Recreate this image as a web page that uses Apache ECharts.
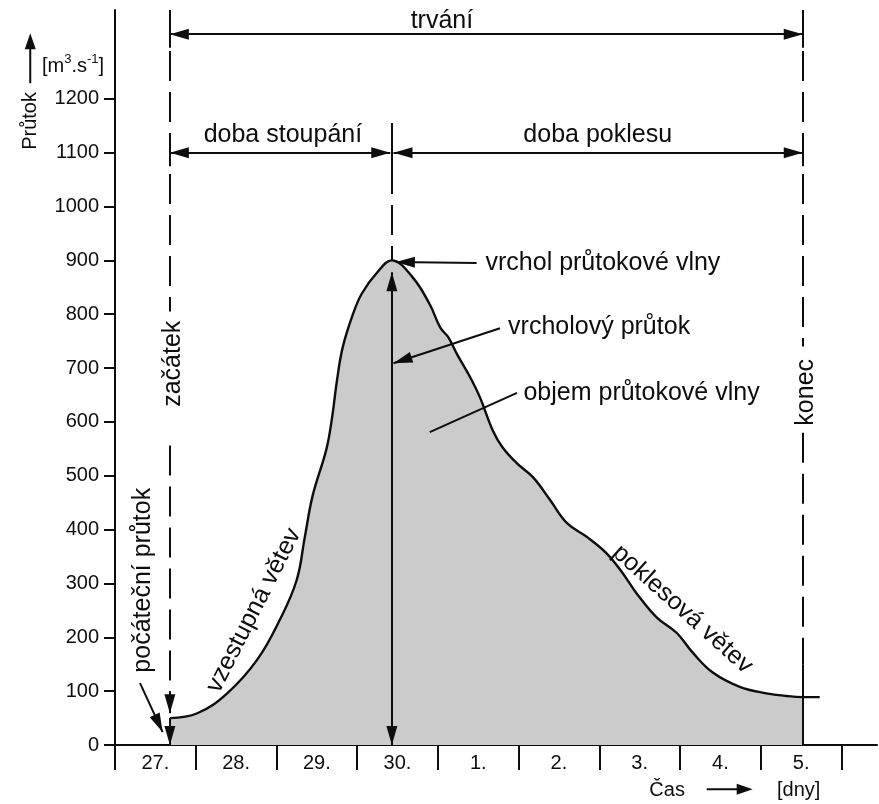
<!DOCTYPE html>
<html><head><meta charset="utf-8">
<script src="https://cdn.jsdelivr.net/npm/echarts@6/dist/echarts.min.js"></script>
<style>html,body{margin:0;padding:0;background:#fff}#c{width:879px;height:804px}</style>
</head><body><div id="c"></div>
<script>
// ---- data ----
const dayLabels = ['27.', '28.', '29.', '30.', '1.', '2.', '3.', '4.', '5.'];
const dayTicks = [0, 1, 2, 3, 4, 5, 6, 7, 8, 9];
const dayLabelPos = [0.5, 1.5, 2.5, 3.5, 4.5, 5.5, 6.5, 7.5, 8.5];
const flowTicks = [0, 100, 200, 300, 400, 500, 600, 700, 800, 900, 1000, 1100, 1200];

// hydrograph (day position, flow m3/s)
const flowDay = [0.68, 1.02, 1.39, 1.76, 2.04, 2.25, 2.35, 2.45, 2.62, 2.69, 2.75, 2.82, 2.95, 3.06, 3.24, 3.43,
  3.69, 3.90, 4.03, 4.13, 4.24, 4.40, 4.52, 4.68, 4.80, 4.98, 5.18, 5.39, 5.60, 5.85, 6.09, 6.29, 6.46, 6.71, 6.96,
  7.16, 7.41, 7.74, 8.07, 8.32, 8.52];
const flowValue = [50, 59, 96, 158, 232, 306, 385, 464, 550, 609, 677, 738, 801, 839, 876, 900,
  868, 818, 775, 757, 725, 683, 646, 584, 553, 523, 497, 455, 412, 386, 356, 319, 282, 237, 208,
  171, 134, 108, 96, 91, 89];
const tailDay = [8.73];
const tailValue = [89];

const startDay = 0.68, peakDay = 3.43, endDay = 8.52;
const startFlow = 50, peakFlow = 900;
const durationLevel = 1320, phaseLevel = 1100;

// ---- styling ----
const FONT = '"Liberation Sans", Arial, Helvetica, sans-serif';
const INK = '#0d0d0d';
const AX_MAX = 1365, DAY_MAX = 9.44;
const ANN = 25;

const areaData = flowDay.map((d, i) => [d, flowValue[i]]);
const lineData = areaData.concat(tailDay.map((d, i) => [d, tailValue[i]]));

const annotations = [
  { t: 'trvání', x: 4.05, y: 1344 },
  { t: 'doba stoupání', x: 2.08, y: 1133 },
  { t: 'doba poklesu', x: 5.98, y: 1133 },
  { t: 'vrchol průtokové vlny', x: 4.59, y: 895, align: 'left' },
  { t: 'vrcholový průtok', x: 4.87, y: 776, align: 'left' },
  { t: 'objem průtokové vlny', x: 5.06, y: 654, align: 'left' },
  { t: 'začátek', x: 0.72, y: 708, rot: 90 },
  { t: 'konec', x: 8.56, y: 655, rot: 90 },
  { t: 'počáteční průtok', x: 0.35, y: 306, rot: 90 },
  { t: 'vzestupná větev', x: 1.72, y: 250, rot: 63 },
  { t: 'poklesová větev', x: 7.03, y: 252, rot: -42 }
];

const seg = (a, b) => [{ coord: a }, { coord: b }];
const HEAD = [11, 19];
const HEAD_OFF = [0, 9.5];
const aseg = (a, b) => [
  { coord: a, symbolSize: HEAD, symbolOffset: HEAD_OFF },
  { coord: b, symbolSize: HEAD, symbolOffset: HEAD_OFF }
];

const chart = echarts.init(document.getElementById('c'), null, { renderer: 'canvas' });
chart.setOption({
  animation: false,
  backgroundColor: '#fff',
  grid: { left: 115, right: 2, top: 10, bottom: 59, containLabel: false, outerBoundsMode: 'none' },
  xAxis: {
    type: 'value', min: 0, max: DAY_MAX,
    axisLine: { show: true, onZero: false, lineStyle: { color: INK, width: 2 } },
    axisTick: { show: true, customValues: dayTicks, length: 25, lineStyle: { color: INK, width: 2 } },
    axisLabel: {
      show: true, customValues: dayLabelPos, margin: 8,
      color: INK, fontFamily: FONT, fontSize: 20,
      formatter: v => dayLabels[Math.round(v - 0.5)] || ''
    },
    splitLine: { show: false }
  },
  yAxis: {
    type: 'value', min: 0, max: AX_MAX,
    axisLine: { show: true, lineStyle: { color: INK, width: 2 } },
    axisTick: { show: true, customValues: flowTicks, length: 11, lineStyle: { color: INK, width: 2 } },
    axisLabel: {
      show: true, customValues: flowTicks, margin: 16, color: INK, fontFamily: FONT, fontSize: 20,
      formatter: v => String(v)
    },
    splitLine: { show: false }
  },
  series: [
    { // flood-wave volume
      type: 'line', data: areaData, smooth: 0.4, symbol: 'none', silent: true,
      lineStyle: { width: 0, opacity: 0 }, areaStyle: { color: '#cbcbcb', opacity: 1 }, z: 1
    },
    { // hydrograph curve
      type: 'line', data: lineData, smooth: 0.4, symbol: 'none', silent: true,
      lineStyle: { color: INK, width: 2.4 }, z: 3
    },
    { // dashed guide lines
      type: 'line', data: [], silent: true, clip: false,
      markLine: {
        silent: true, symbol: ['none', 'none'], label: { show: false },
        lineStyle: { color: INK, width: 2, type: [30, 11] },
        emphasis: { disabled: true },
        data: [
          seg([startDay, AX_MAX], [startDay, 805]),
          seg([startDay, 556], [startDay, 90]),
          seg([peakDay, 1155], [peakDay, peakFlow]),
          seg([endDay, AX_MAX], [endDay, 740]),
          seg([endDay, 580], [endDay, 150])
        ]
      }
    },
    { // plain solid lines
      type: 'line', data: [], silent: true, clip: false,
      markLine: {
        silent: true, symbol: ['none', 'none'], label: { show: false },
        lineStyle: { color: INK, width: 2, type: 'solid' },
        emphasis: { disabled: true },
        data: [
          seg([4.98, 654], [3.90, 581]),
          seg([endDay, 150], [endDay, 0]),
          seg([startDay, 1345], [startDay, 1295]),
          seg([endDay, 1345], [endDay, 1295]),
          seg([startDay, 1125], [startDay, 1075]),
          seg([peakDay, 1125], [peakDay, 1075]),
          seg([endDay, 1125], [endDay, 1075])
        ]
      }
    },
    { // double arrows
      type: 'line', data: [], silent: true, clip: false,
      markLine: {
        silent: true, symbol: ['triangle', 'triangle'],
        label: { show: false }, lineStyle: { color: INK, width: 2, type: 'solid' },
        itemStyle: { color: INK },
        emphasis: { disabled: true },
        data: [
          aseg([startDay, durationLevel], [endDay, durationLevel]),
          aseg([startDay, phaseLevel], [peakDay - 0.02, phaseLevel]),
          aseg([peakDay + 0.02, phaseLevel], [endDay, phaseLevel]),
          aseg([peakDay, 0], [peakDay, 878])
        ]
      }
    },
    { // single arrows
      type: 'line', data: [], silent: true, clip: false,
      markLine: {
        silent: true, symbol: ['none', 'triangle'],
        label: { show: false }, lineStyle: { color: INK, width: 2, type: 'solid' },
        itemStyle: { color: INK },
        emphasis: { disabled: true },
        data: [
          aseg([4.48, 895], [3.48, 897]),
          aseg([4.77, 774], [3.45, 709]),
          aseg([0.31, 115], [0.59, 24]),
          aseg([startDay, 100], [startDay, 59]),
          aseg([startDay, startFlow], [startDay, 0])
        ]
      }
    },
    { // annotation texts
      type: 'scatter', silent: true, symbolSize: 0, z: 10,
      itemStyle: { opacity: 1 },
      data: annotations.map(a => ({
        value: [a.x, a.y],
        label: {
          show: true, position: 'inside', formatter: a.t, rotate: a.rot || 0,
          align: a.align || 'center', verticalAlign: 'middle',
          color: INK, opacity: 1, fontFamily: FONT, fontSize: ANN
        }
      }))
    }
  ]
});

// axis titles placed through the axes' own scales
const px = (d, v) => chart.convertToPixel({ gridIndex: 0 }, [d, v]);
const pName = px(-1.05, 1159);
const pArrTop = px(-1.05, 1322), pArrBot = px(-1.05, 1229);
const pUnit = px(-0.52, 1263);
const pCas = px(6.84, -84);
const pArrL = px(7.33, -82), pArrR = px(7.90, -82);
const pDny = px(8.47, -85);
chart.setOption({
  graphic: [
    { type: 'text', x: pName[0], y: pName[1], rotation: Math.PI / 2,
      style: { text: 'Průtok', fontFamily: FONT, fontSize: 20, fill: INK, align: 'center', verticalAlign: 'middle' } },
    { type: 'line', shape: { x1: pArrBot[0], y1: pArrBot[1], x2: pArrTop[0], y2: pArrTop[1] + 12 },
      style: { stroke: INK, lineWidth: 2 } },
    { type: 'polygon', shape: { points: [[pArrTop[0], pArrTop[1]], [pArrTop[0] - 5.5, pArrTop[1] + 16], [pArrTop[0] + 5.5, pArrTop[1] + 16]] },
      style: { fill: INK } },
    { type: 'text', x: pUnit[0], y: pUnit[1],
      style: {
        text: '{a|[m}{s|3}{a|.s}{s|-1}{a|]}', align: 'center', verticalAlign: 'middle',
        rich: {
          a: { fontFamily: FONT, fontSize: 20, fill: INK, lineHeight: 24, verticalAlign: 'bottom' },
          s: { fontFamily: FONT, fontSize: 13, fill: INK, lineHeight: 24, verticalAlign: 'top' }
        }
      } },
    { type: 'text', x: pCas[0], y: pCas[1],
      style: { text: 'Čas', fontFamily: FONT, fontSize: 20, fill: INK, align: 'center', verticalAlign: 'middle' } },
    { type: 'line', shape: { x1: pArrL[0], y1: pArrL[1], x2: pArrR[0] - 12, y2: pArrR[1] },
      style: { stroke: INK, lineWidth: 2 } },
    { type: 'polygon', shape: { points: [[pArrR[0], pArrR[1]], [pArrR[0] - 16, pArrR[1] - 5.5], [pArrR[0] - 16, pArrR[1] + 5.5]] },
      style: { fill: INK } },
    { type: 'text', x: pDny[0], y: pDny[1],
      style: { text: '[dny]', fontFamily: FONT, fontSize: 20, fill: INK, align: 'center', verticalAlign: 'middle' } }
  ]
});
</script>
</body></html>
